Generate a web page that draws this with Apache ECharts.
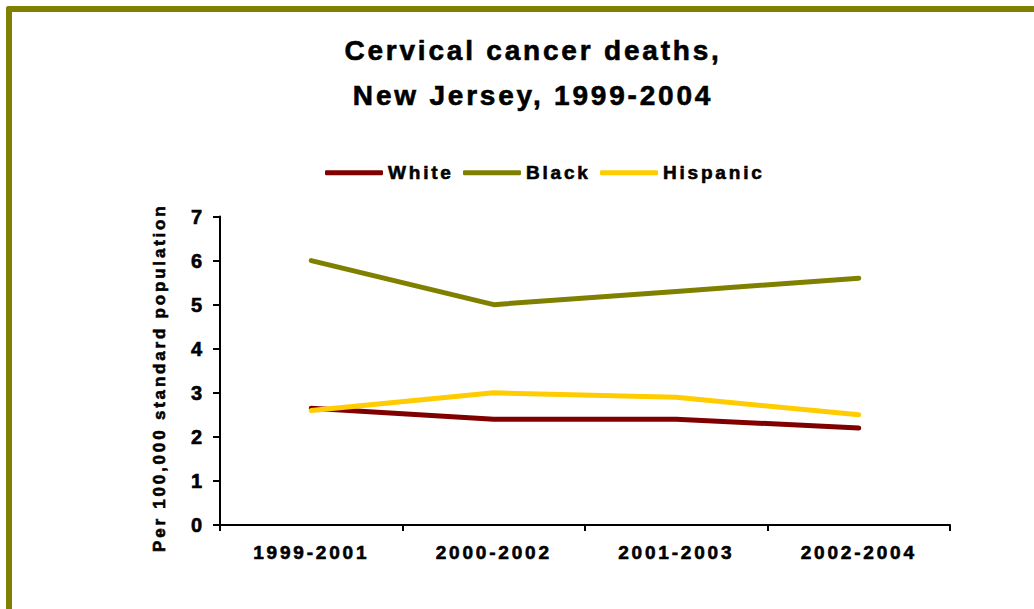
<!DOCTYPE html>
<html>
<head>
<meta charset="utf-8">
<script src="https://cdn.jsdelivr.net/npm/echarts@6/dist/echarts.min.js"></script>
<style>
  html, body { margin: 0; padding: 0; background: #fff; }
  #frame {
    position: absolute; left: 6px; top: 6px; width: 1040px; height: 620px;
    border-top: 6px solid #808000; border-left: 6px solid #808000;
    border-top-left-radius: 3px;
  }
  #chart { position: absolute; left: 0; top: 0; width: 1034px; height: 609px; }
  /* the original slide text is spaced out a little */
  #chart text { letter-spacing: 2.8px; }
</style>
</head>
<body>
<div id="frame"></div>
<div id="chart"></div>
<script>
// periods on the x axis
var periods = ['1999-2001', '2000-2002', '2001-2003', '2002-2004'];
// rates per 100,000
var white = [2.65, 2.4, 2.4, 2.2];
var black = [6.0, 5.0, 5.3, 5.6];
var hispanic = [2.6, 3.0, 2.9, 2.5];
var yTicks = [0, 1, 2, 3, 4, 5, 6, 7];

var myChart = echarts.init(document.getElementById('chart'), null, { renderer: 'svg' });
var font = 'Liberation Sans, Arial, sans-serif';

// slightly heavier text, like the original slide
function txt(size) {
    return {
        fontFamily: font,
        fontSize: size,
        fontWeight: 'bold',
        color: '#000',
        textBorderColor: '#000',
        textBorderWidth: 0.6
    };
}

function lineSeries(name, data, color) {
    return {
        name: name,
        type: 'line',
        data: data,
        symbol: 'none',
        lineStyle: { color: color, width: 5, cap: 'round', join: 'round' },
        itemStyle: { color: color },
        z: 3
    };
}

function legendItem(name, left) {
    return {
        top: 163,
        left: left,
        padding: 0,
        icon: 'roundRect',
        itemWidth: 58,
        itemHeight: 5,
        textStyle: txt(19),
        data: [name]
    };
}

var titleStyle = txt(28);
titleStyle.lineHeight = 45;

var option = {
    backgroundColor: 'transparent',
    animation: false,
    title: {
        text: 'Cervical cancer deaths,\nNew Jersey, 1999-2004',
        left: 528,
        top: 23,
        textAlign: 'center',
        textStyle: titleStyle
    },
    legend: [
        legendItem('White', 325),
        legendItem('Black', 463),
        legendItem('Hispanic', 600)
    ],
    grid: {
        left: 220,
        right: 84,
        top: 216.5,
        bottom: 84
    },
    xAxis: {
        type: 'category',
        data: periods,
        boundaryGap: true,
        axisLine: { lineStyle: { color: '#000', width: 2 } },
        axisTick: { show: true, length: 6, lineStyle: { color: '#000', width: 2 } },
        axisLabel: Object.assign(txt(19), { margin: 18 })
    },
    yAxis: {
        type: 'value',
        min: yTicks[0],
        max: yTicks[yTicks.length - 1],
        interval: 1,
        name: 'Per 100,000 standard population',
        nameLocation: 'middle',
        nameRotate: 90,
        nameGap: 52,
        nameTextStyle: Object.assign(txt(17), { padding: [0, 14, 0, 0] }),
        axisLine: { show: true, lineStyle: { color: '#000', width: 2 } },
        axisTick: { show: true, length: 7, lineStyle: { color: '#000', width: 2 } },
        splitLine: { show: false },
        axisLabel: Object.assign(txt(20), { margin: 15 })
    },
    series: [
        lineSeries('White', white, '#800000'),
        lineSeries('Black', black, '#808000'),
        lineSeries('Hispanic', hispanic, '#FFCC00')
    ]
};
myChart.setOption(option);
</script>
</body>
</html>
